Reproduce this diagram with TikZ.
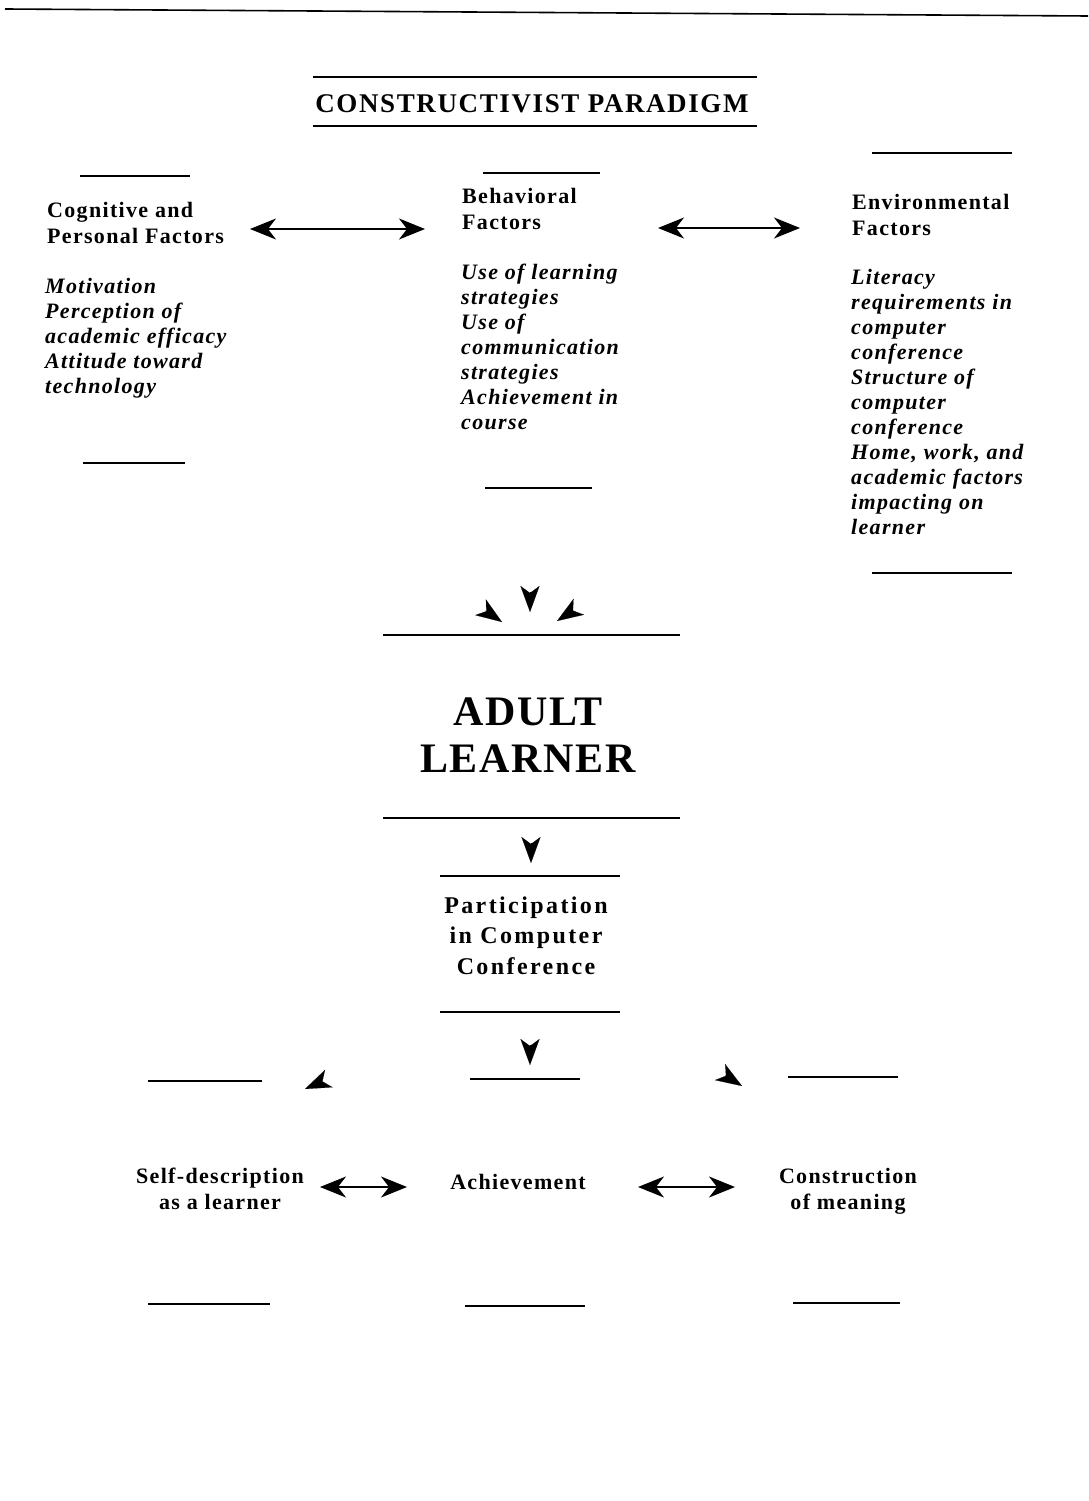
\documentclass[tikz,border=0pt]{standalone}
\usepackage{fontspec}
\setmainfont{Liberation Serif}
\newfontfamily\spc[LetterSpace=6]{Liberation Serif}
\newfontfamily\spcp[LetterSpace=10]{Liberation Serif}
\newfontfamily\spcb[LetterSpace=4]{Liberation Serif}
\usetikzlibrary{arrows.meta}
\begin{document}
\begin{tikzpicture}[x=1pt,y=-1pt,
  rule/.style={line width=1.6pt},
  headtxt/.style={font=\spc\bfseries\fontsize{22}{25.5}\selectfont, align=left, inner sep=0pt, anchor=base west},
  itemtxt/.style={font=\spc\bfseries\itshape\fontsize{22}{25}\selectfont, align=left, inner sep=0pt, anchor=base west},
  ctrtxt/.style={font=\spc\bfseries\fontsize{22}{26}\selectfont, align=center, inner sep=0pt, anchor=base},
  dbl/.style={line width=1.4pt, {Stealth[length=26pt,width=21pt,inset=8pt]}-{Stealth[length=26pt,width=21pt,inset=8pt]}},
  tipar/.style={line width=0.1pt, -{Stealth[length=26pt,width=19pt,inset=7pt]}},
]
\useasboundingbox[fill=white] (0,0) rectangle (1088,1501);

% top page rule
\draw[rule] (5,9) -- (1088,16);

% title
\draw[rule] (313,77) -- (757,77);
\node[font=\spc\bfseries\fontsize{27}{30}\selectfont, inner sep=0pt, anchor=base] (title) at (532,113) {CONSTRUCTIVIST PARADIGM};
\draw[rule] (313,126) -- (757,126);

% left column (base anchor = baseline of last line)
\draw[rule] (80,176) -- (190,176);
\node[headtxt] (cogh) at (47,243) {Cognitive and\\Personal Factors};
\node[itemtxt] (cogi) at (45,393) {Motivation\\Perception of\\academic efficacy\\Attitude toward\\technology};
\draw[rule] (83,463) -- (185,463);

% middle column
\draw[rule] (483,173) -- (600,173);
\node[headtxt] (behh) at (462,229) {Behavioral\\Factors};
\node[itemtxt] (behi) at (461,429) {Use of learning\\strategies\\Use of\\communication\\strategies\\Achievement in\\course};
\draw[rule] (485,488) -- (592,488);

% right column
\draw[rule] (872,153) -- (1012,153);
\node[headtxt] (envh) at (852,235) {Environmental\\Factors};
\node[itemtxt] (envi) at (851,534) {Literacy\\requirements in\\computer\\conference\\Structure of\\computer\\conference\\Home, work, and\\academic factors\\impacting on\\learner};
\draw[rule] (872,573) -- (1012,573);

% double arrows top
\coordinate (a1l) at (250,229); \coordinate (a1r) at (425,229);
\coordinate (a2l) at (658,228); \coordinate (a2r) at (800,228);
\draw[dbl] (a1l) -- (a1r);
\draw[dbl] (a2l) -- (a2r);

% converging arrowheads
\coordinate (c1s) at (485.5,610.7); \coordinate (c1e) at (502,622);
\coordinate (c2s) at (530,592); \coordinate (c2e) at (530,612);
\coordinate (c3s) at (573.7,610.1); \coordinate (c3e) at (557,621);
\draw[tipar] (c1s) -- (c1e);
\draw[tipar] (c2s) -- (c2e);
\draw[tipar] (c3s) -- (c3e);

% adult learner
\draw[rule] (383,635) -- (680,635);
\node[font=\spcb\bfseries\fontsize{42}{47}\selectfont, align=center, inner sep=0pt, anchor=base] (adult) at (528,772) {ADULT\\LEARNER};
\draw[rule] (383,818) -- (680,818);

\coordinate (d1s) at (531,843); \coordinate (d1e) at (531,863);
\draw[tipar] (d1s) -- (d1e);

% participation
\draw[rule] (440,876) -- (620,876);
\node[font=\spcp\bfseries\fontsize{24}{30.5}\selectfont, align=center, inner sep=0pt, anchor=base] (part) at (526,974) {Participation\\in Computer\\Conference};
\draw[rule] (440,1012) -- (620,1012);

\coordinate (d2s) at (530,1045); \coordinate (d2e) at (530,1065);
\draw[tipar] (d2s) -- (d2e);

% outcome row top rules and arrowheads
\draw[rule] (148,1081) -- (262,1081);
\draw[rule] (470,1079) -- (580,1079);
\draw[rule] (788,1077) -- (898,1077);
\coordinate (l1s) at (323.3,1081); \coordinate (l1e) at (305,1089);
\coordinate (r1s) at (725.1,1075.3); \coordinate (r1e) at (742,1086);
\draw[tipar] (l1s) -- (l1e);
\draw[tipar] (r1s) -- (r1e);

% outcomes
\node[ctrtxt] (self) at (220,1209) {Self-description\\as a learner};
\node[ctrtxt] (ach) at (518,1189) {Achievement};
\node[ctrtxt] (cons) at (848,1209) {Construction\\of meaning};

\coordinate (b1l) at (320,1187); \coordinate (b1r) at (407,1187);
\coordinate (b2l) at (638,1187); \coordinate (b2r) at (735,1187);
\draw[dbl] (b1l) -- (b1r);
\draw[dbl] (b2l) -- (b2r);

% bottom rules
\draw[rule] (148,1304) -- (270,1304);
\draw[rule] (465,1306) -- (585,1306);
\draw[rule] (793,1303) -- (900,1303);
\end{tikzpicture}
\end{document}
